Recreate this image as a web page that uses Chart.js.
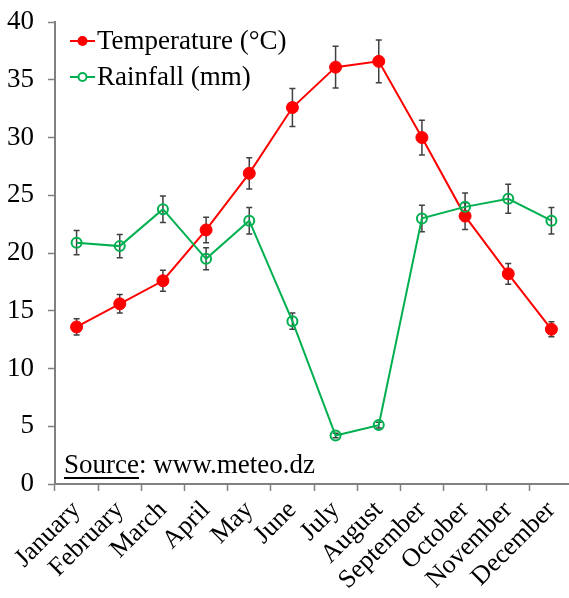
<!DOCTYPE html>
<html>
<head>
    <title>Temperature and Rainfall</title>
    <script src="https://cdn.jsdelivr.net/npm/chart.js"></script>
    <style>
        body { margin: 0; overflow: hidden; background: #fff; }
    </style>
</head>
<body>
    <canvas id="climateChart" width="580" height="598"></canvas>
    <script>
    const months = ['January', 'February', 'March', 'April', 'May', 'June', 'July',
                    'August', 'September', 'October', 'November', 'December'];
    const temperature = [13.6, 15.6, 17.6, 22.0, 26.9, 32.6, 36.1, 36.6, 30.0, 23.2, 18.2, 13.4];
    const temperatureErr = [0.7, 0.8, 0.9, 1.1, 1.35, 1.65, 1.8, 1.85, 1.5, 1.15, 0.9, 0.65];
    const rainfall = [20.9, 20.6, 23.8, 19.5, 22.8, 14.1, 4.2, 5.1, 23.0, 24.0, 24.7, 22.8];
    const rainfallErr = [1.05, 1.0, 1.15, 0.95, 1.15, 0.7, 0.2, 0.25, 1.15, 1.2, 1.25, 1.15];
    const yMin = 0, yMax = 40, yStep = 5;

    const serif = "'Liberation Serif', 'Times New Roman', serif";
    const red = '#ff0000';
    const green = '#00b050';
    const axisGray = '#808080';

    Chart.defaults.font.family = serif;
    Chart.defaults.color = '#000';

    // error bars go under the lines so filled markers cover them
    const errorBars = {
        id: 'errorBars',
        beforeDatasetsDraw(chart) {
            const ctx = chart.ctx;
            const y = chart.scales.y;
            ctx.save();
            ctx.strokeStyle = '#404040';
            ctx.lineWidth = 1.5;
            chart.data.datasets.forEach((ds, i) => {
                chart.getDatasetMeta(i).data.forEach((pt, j) => {
                    const top = y.getPixelForValue(ds.data[j] + ds.errors[j]);
                    const bot = y.getPixelForValue(ds.data[j] - ds.errors[j]);
                    ctx.beginPath();
                    ctx.moveTo(pt.x, top); ctx.lineTo(pt.x, bot);
                    ctx.moveTo(pt.x - 3, top); ctx.lineTo(pt.x + 3, top);
                    ctx.moveTo(pt.x - 3, bot); ctx.lineTo(pt.x + 3, bot);
                    ctx.stroke();
                });
            });
            ctx.restore();
        }
    };

    // legend in the top-left corner and the source note
    const legendAndSource = {
        id: 'legendAndSource',
        afterDraw(chart) {
            const ctx = chart.ctx;
            ctx.save();
            ctx.font = '27px ' + serif;
            ctx.fillStyle = '#000';
            ctx.textBaseline = 'middle';
            const rows = [
                { ds: chart.data.datasets[0], y: 41 },
                { ds: chart.data.datasets[1], y: 77 }
            ];
            rows.forEach(r => {
                const hollow = r.ds.pointBackgroundColor === 'transparent';
                ctx.strokeStyle = r.ds.borderColor;
                ctx.lineWidth = 2;
                ctx.beginPath();
                ctx.moveTo(70, r.y); ctx.lineTo(95, r.y);
                ctx.stroke();
                ctx.beginPath();
                ctx.arc(82.5, r.y, hollow ? 4 : 5, 0, Math.PI * 2);
                ctx.fillStyle = hollow ? '#fff' : r.ds.pointBackgroundColor;
                ctx.fill();
                if (hollow) ctx.stroke();
                ctx.fillStyle = '#000';
                ctx.fillText(r.ds.label, 97, r.y + 1);
            });

            ctx.textBaseline = 'alphabetic';
            const w = ctx.measureText('Source').width;
            ctx.fillText('Source', 64, 473);
            ctx.fillText(': www.meteo.dz', 64 + w, 473);
            ctx.fillRect(64, 477, w, 2);
            ctx.restore();
        }
    };

    const ctx = document.getElementById('climateChart').getContext('2d');
    new Chart(ctx, {
        type: 'line',
        data: {
            labels: months,
            datasets: [{
                label: 'Temperature (°C)',
                data: temperature,
                errors: temperatureErr,
                borderColor: red,
                borderWidth: 2,
                pointBackgroundColor: red,
                pointBorderColor: red,
                pointRadius: 6,
                pointBorderWidth: 1,
                tension: 0,
                order: 1
            }, {
                label: 'Rainfall (mm)',
                data: rainfall,
                errors: rainfallErr,
                borderColor: green,
                borderWidth: 2,
                pointBackgroundColor: 'transparent',
                pointBorderColor: green,
                pointRadius: 5,
                pointBorderWidth: 2,
                tension: 0,
                order: 0
            }]
        },
        options: {
            responsive: false,
            animation: false,
            layout: { padding: 0 },
            plugins: {
                legend: { display: false },
                tooltip: { enabled: false }
            },
            scales: {
                x: {
                    offset: true,
                    grid: {
                        display: true,
                        offset: true,
                        drawOnChartArea: false,
                        drawTicks: true,
                        tickLength: 7,
                        tickColor: axisGray,
                        tickWidth: 1.5
                    },
                    border: { display: true, color: axisGray, width: 2 },
                    ticks: {
                        color: '#000',
                        font: { family: serif, size: 26 },
                        minRotation: 45,
                        maxRotation: 45,
                        autoSkip: false,
                        padding: 4
                    },
                    afterFit(scale) { scale.height = 114; }
                },
                y: {
                    min: yMin,
                    max: yMax,
                    grid: {
                        display: true,
                        drawOnChartArea: false,
                        drawTicks: true,
                        tickLength: 7,
                        tickColor: axisGray,
                        tickWidth: 1.5
                    },
                    border: { display: true, color: axisGray, width: 2 },
                    ticks: {
                        stepSize: yStep,
                        color: '#000',
                        // small lineHeight keeps the top label from pushing the plot down
                        font: { family: serif, size: 27, lineHeight: 0.6 },
                        padding: 14
                    },
                    afterFit(scale) { scale.width = 55; }
                }
            }
        },
        plugins: [errorBars, legendAndSource]
    });
    </script>
</body>
</html>
